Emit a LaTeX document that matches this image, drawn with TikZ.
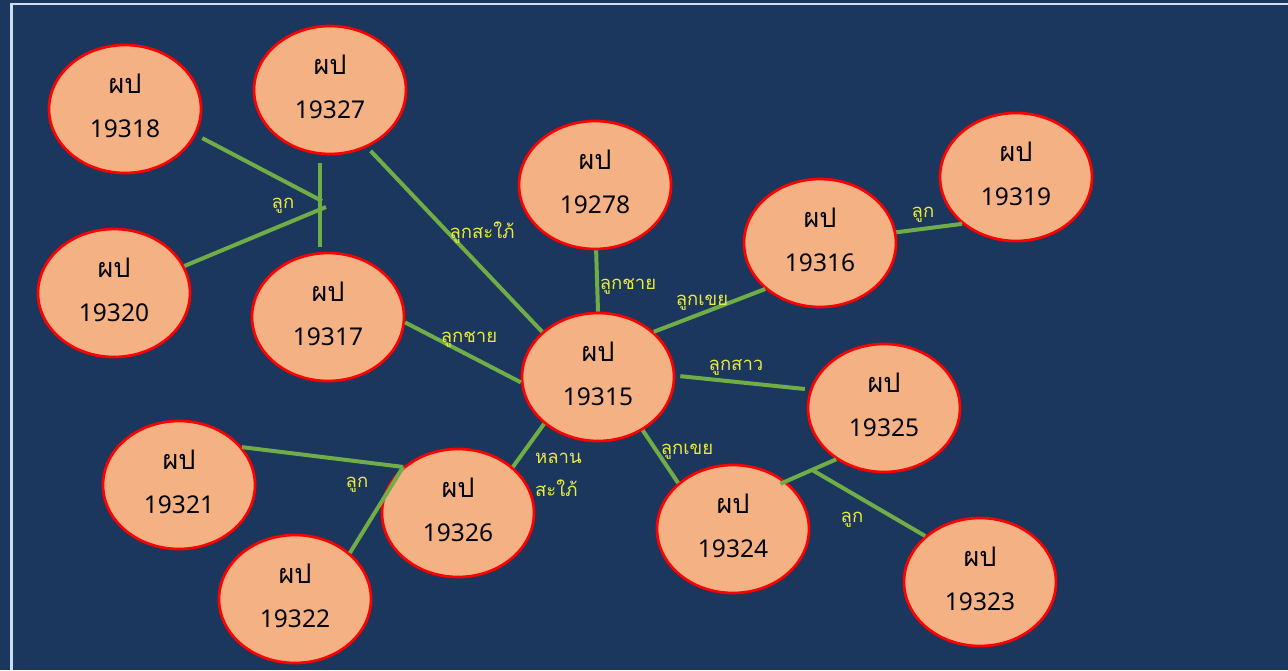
\documentclass[tikz,border=0pt]{standalone}
\usepackage{fontspec}
\setmainfont{Noto Sans}
\newfontfamily\thai[Script=Thai]{Loma}
\usetikzlibrary{shapes.geometric,calc}
\definecolor{bg}{RGB}{27,55,94}
\definecolor{nodefill}{RGB}{244,177,131}
\definecolor{edgegreen}{RGB}{112,173,71}
\definecolor{lbl}{RGB}{235,235,60}
\definecolor{framecol}{RGB}{205,220,240}
\newcommand\pername[1]{\rule{0pt}{14pt}\smash{{\thai\fontsize{27}{44}\selectfont ผป}}\\#1}
\begin{document}
\begin{tikzpicture}[x=1pt,y=-1pt,
  person/.style={ellipse,draw=red,line width=2.7pt,fill=nodefill,
    minimum width=152pt,minimum height=128pt,inner sep=0pt,align=center,
    font=\fontsize{24.5}{44}\selectfont},
  link/.style={draw=edgegreen,line width=4pt},
  rel/.style={text=lbl,font=\thai\fontsize{18.5}{30}\selectfont,inner sep=0pt,anchor=base}]
\useasboundingbox (0,0) rectangle (1288,670);
\fill[bg] (0,0) rectangle (1288,670);
\draw[framecol,line width=2.5pt] (11.5,670) -- (11.5,4) -- (1288,4);

\node[person] (n18) at (125,109) {\pername{19318}};
\node[person] (n27) at (330,90) {\pername{19327}};
\node[person] (n20) at (114,293) {\pername{19320}};
\node[person] (n17) at (328,317) {\pername{19317}};
\node[person] (n278) at (595,185) {\pername{19278}};
\node[person] (n15) at (598,377) {\pername{19315}};
\node[person] (n16) at (820,243) {\pername{19316}};
\node[person] (n19) at (1016,177) {\pername{19319}};
\node[person] (n25) at (884,408) {\pername{19325}};
\node[person] (n24) at (733,529) {\pername{19324}};
\node[person] (n23) at (980,582) {\pername{19323}};
\node[person] (n21) at (179,485) {\pername{19321}};
\node[person] (n26) at (458,513) {\pername{19326}};
\node[person] (n22) at (295,599) {\pername{19322}};

\coordinate (j1) at (322,201);
\coordinate (j2) at (326,207);
\coordinate (v1) at (320,163);
\coordinate (v2) at (320,247);

\draw[link,shorten <=7pt] (n18.-20) -- (j1);
\draw[link] (n20.21) -- (j2);
\draw[link] (v1) -- (v2);
\draw[link,shorten <=5pt] (n27.-57) -- (n15.141);
\draw[link] (n278.-89) -- (n15.90);
\draw[link] (n17.-4) -- (n15.184);
\draw[link] (n15.39) -- (n16.220);
\draw[link,shorten <=5pt,shorten >=5pt] (n15.1) -- (n25.166);
\draw[link] (n15.-50) -- (n24.140);
\draw[link] (n15.221) -- (n26.40);
\draw[link,shorten <=-6pt] (n24.42) -- (n25.227);
\draw[link] ($(n24.42)!0.52!(n25.227)$) -- (n23.140);
\draw[link] (n21.31) -- (n26.140);
\draw[link] (n22.40) -- (n26.140);
\draw[link] (n16.8) -- (n19.221);

\node[rel] (l1) at (283,208) {ลูก};
\node[rel] (l2) at (482,238) {ลูกสะใภ้};
\node[rel] (l3) at (628,289) {ลูกชาย};
\node[rel] (l4) at (469,342) {ลูกชาย};
\node[rel] (l5) at (702,305) {ลูกเขย};
\node[rel] (l6) at (736,370) {ลูกสาว};
\node[rel] (l7) at (687,454) {ลูกเขย};
\node[rel,anchor=base west] (l8a) at (535,463) {หลาน};
\node[rel,anchor=base west] (l8b) at (535,496) {สะใภ้};
\node[rel] (l10) at (852,522) {ลูก};
\node[rel] (l11) at (357,487) {ลูก};
\node[rel] (l12) at (923,217) {ลูก};
\end{tikzpicture}
\end{document}
